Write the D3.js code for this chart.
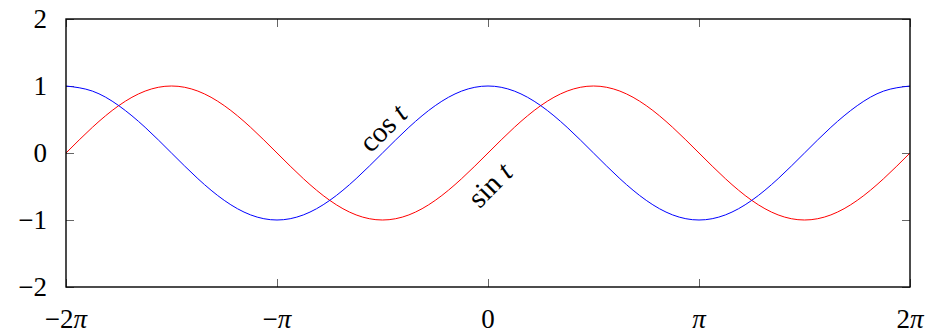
<!DOCTYPE html>
<html>
<head>
<meta charset="utf-8">
<script src="https://cdn.jsdelivr.net/npm/d3@7"></script>
<style>
  html, body { margin: 0; padding: 0; background: #fff; }
  svg { display: block; }
</style>
</head>
<body>
<svg id="chart" width="936" height="336"></svg>
<script>
// t sampled every π/8 over [−2π, 2π], in multiples of π
const tPi = [-2, -1.875, -1.75, -1.625, -1.5, -1.375, -1.25, -1.125,
             -1, -0.875, -0.75, -0.625, -0.5, -0.375, -0.25, -0.125,
             0, 0.125, 0.25, 0.375, 0.5, 0.625, 0.75, 0.875,
             1, 1.125, 1.25, 1.375, 1.5, 1.625, 1.75, 1.875, 2];
const sinValues = [0, 0.383, 0.707, 0.924, 1, 0.924, 0.707, 0.383,
                   0, -0.383, -0.707, -0.924, -1, -0.924, -0.707, -0.383,
                   0, 0.383, 0.707, 0.924, 1, 0.924, 0.707, 0.383,
                   0, -0.383, -0.707, -0.924, -1, -0.924, -0.707, -0.383, 0];
const cosValues = [1, 0.924, 0.707, 0.383, 0, -0.383, -0.707, -0.924,
                   -1, -0.924, -0.707, -0.383, 0, 0.383, 0.707, 0.924,
                   1, 0.924, 0.707, 0.383, 0, -0.383, -0.707, -0.924,
                   -1, -0.924, -0.707, -0.383, 0, 0.383, 0.707, 0.924, 1];
const xTicks = [-2, -1, 0, 1, 2];
const xTickLabels = ["−2", "−", "0", "", "2"];   // numeric prefix; π appended where needed
const xTickHasPi = [true, true, false, true, true];
const yTicks = [-2, -1, 0, 1, 2];
const yTickLabels = ["−2", "−1", "0", "1", "2"];

const FONT = "Liberation Serif";

const svg = d3.select("#chart").attr("font-family", FONT);
const m = { left: 66, right: 910, top: 19, bottom: 287 };

const x = d3.scaleLinear().domain([-2, 2]).range([m.left, m.right]);
const y = d3.scaleLinear().domain([-2, 2]).range([m.bottom, m.top]);

const tickLen = 8;
const tickColor = "#666";

// inward ticks on all four sides
const gTicks = svg.append("g").attr("stroke", tickColor).attr("stroke-width", 1);
xTicks.forEach(v => {
  const px = Math.round(x(v)) + 0.5;
  gTicks.append("line").attr("x1", px).attr("x2", px).attr("y1", m.bottom).attr("y2", m.bottom - tickLen);
  gTicks.append("line").attr("x1", px).attr("x2", px).attr("y1", m.top).attr("y2", m.top + tickLen);
});
yTicks.forEach(v => {
  const py = Math.round(y(v)) + 0.5;
  gTicks.append("line").attr("x1", m.left).attr("x2", m.left + tickLen).attr("y1", py).attr("y2", py);
  gTicks.append("line").attr("x1", m.right).attr("x2", m.right - tickLen).attr("y1", py).attr("y2", py);
});

// curves
const pts = (vals) => tPi.map((t, i) => [t, vals[i]]);
const line = d3.line().x(d => x(d[0])).y(d => y(d[1])).curve(d3.curveNatural);

svg.append("path").datum(pts(sinValues))
  .attr("d", line).attr("fill", "none").attr("stroke", "#ff0000").attr("stroke-width", 1);
svg.append("path").datum(pts(cosValues))
  .attr("d", line).attr("fill", "none").attr("stroke", "#0000ff").attr("stroke-width", 1);

// frame
svg.append("rect")
  .attr("x", m.left).attr("y", m.top)
  .attr("width", m.right - m.left).attr("height", m.bottom - m.top)
  .attr("fill", "none").attr("stroke", "#000").attr("stroke-width", 1.4);

// y tick labels
svg.append("g").selectAll("text").data(yTicks).join("text")
  .attr("font-family", FONT)
  .attr("x", 47).attr("y", d => y(d) + 9)
  .attr("text-anchor", "end").attr("font-size", 27)
  .text((d, i) => yTickLabels[i]);

// x tick labels
const xl = svg.append("g").selectAll("text").data(xTicks).join("text")
  .attr("font-family", FONT)
  .attr("x", d => x(d)).attr("y", 328)
  .attr("text-anchor", "middle").attr("font-size", 27);
xl.each(function(d, i) {
  const t = d3.select(this);
  t.append("tspan").text(xTickLabels[i]);
  if (xTickHasPi[i]) t.append("tspan").attr("font-style", "italic").text("π");
});

// curve labels
const cosLbl = svg.append("text")
  .attr("font-family", FONT)
  .attr("transform", "translate(383,128) rotate(-45)")
  .attr("text-anchor", "middle").attr("dy", "0.33em").attr("font-size", 29);
cosLbl.append("tspan").text("cos ");
cosLbl.append("tspan").attr("font-style", "italic").text("t");

const sinLbl = svg.append("text")
  .attr("font-family", FONT)
  .attr("transform", "translate(490,185) rotate(-45)")
  .attr("text-anchor", "middle").attr("dy", "0.33em").attr("font-size", 29);
sinLbl.append("tspan").text("sin ");
sinLbl.append("tspan").attr("font-style", "italic").text("t");
</script>
</body>
</html>
